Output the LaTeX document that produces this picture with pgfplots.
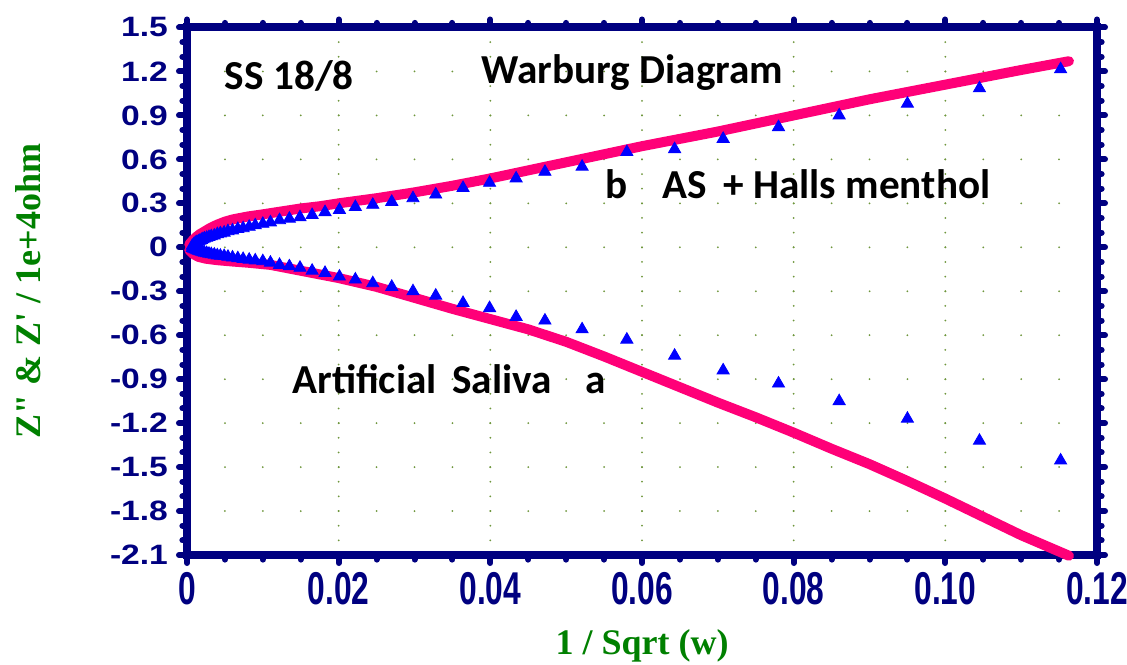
\documentclass[border=0pt]{standalone}
\usepackage{fontspec}
\usepackage{pgfplots}
\pgfplotsset{compat=1.18}
\newfontfamily\tickfont[FakeStretch=1.2]{Liberation Sans}
\newfontfamily\xtickfont[FakeStretch=0.69]{Liberation Sans}
\newfontfamily\labelfont{Liberation Serif}
\newfontfamily\annfont{Carlito}
\definecolor{navy}{RGB}{0,0,128}
\definecolor{dgreen}{RGB}{0,128,0}
\definecolor{gridgreen}{RGB}{110,150,60}
\definecolor{hotpink}{RGB}{255,0,120}
\begin{document}
\begin{tikzpicture}
\useasboundingbox (-93.5pt,-54.5pt) rectangle (470pt,277.5pt);
\begin{axis}[
  at={(0,0)}, anchor=south west,
  scale only axis, width=455pt, height=263.75pt,
  xmin=0, xmax=0.12, ymin=-2.1, ymax=1.5,
  xtick={0,0.02,0.04,0.06,0.08,0.1,0.12},
  xticklabels={0,0.02,0.04,0.06,0.08,0.10,0.12},
  ytick={-2.1,-1.8,-1.5,-1.2,-0.9,-0.6,-0.3,0,0.3,0.6,0.9,1.2,1.5},
  yticklabels={-2.1,-1.8,-1.5,-1.2,-0.9,-0.6,-0.3,0,0.3,0.6,0.9,1.2,1.5},
  minor x tick num=3, minor y tick num=2,
  tick align=outside,
  axis line style={navy, line width=4pt, line cap=rect},
  tick style={navy, line width=3pt, line cap=round},
  major tick length=4pt, minor tick length=2.3pt,
  yticklabel style={font=\tickfont\bfseries\fontsize{14pt}{16pt}\selectfont, text=navy},
  xticklabel style={font=\xtickfont\bfseries\fontsize{23pt}{25pt}\selectfont, text=navy},
  xticklabel shift=1pt, yticklabel shift=2pt,
  grid=major,
  major x grid style={gridgreen, line width=1pt, line cap=round, dash pattern=on 0pt off 7.3264pt},
  major y grid style={gridgreen, line width=1pt, line cap=round, dash pattern=on 0pt off 18.9583pt},
  xlabel={1 / Sqrt (w)},
  ylabel={Z" \& Z' / 1e+4ohm},
  label style={font=\labelfont\bfseries\fontsize{18pt}{20pt}\selectfont, text=dgreen},
  xlabel style={at={(axis description cs:0.5,-0.1725)}, anchor=center},
  ylabel style={at={(axis description cs:-0.1747,0.5)}, anchor=center},
  clip=false,
]
% upper pink curve
\addplot[hotpink, line width=5pt, line join=round, line cap=round] coordinates {
(0.0003,0.02)(0.0008,0.05)(0.0012,0.07)(0.0017,0.09)(0.0022,0.105)(0.003,0.13)
(0.004,0.155)(0.005,0.175)(0.006,0.19)(0.008,0.21)(0.010,0.225)(0.0125,0.245)
(0.015,0.265)(0.0175,0.28)(0.020,0.30)(0.025,0.335)(0.030,0.375)(0.035,0.42)
(0.040,0.47)(0.045,0.525)(0.050,0.58)(0.055,0.635)(0.060,0.69)(0.065,0.74)
(0.070,0.79)(0.075,0.845)(0.080,0.90)(0.085,0.955)(0.090,1.01)(0.095,1.06)
(0.100,1.11)(0.105,1.16)(0.110,1.21)(0.1163,1.27)
};
% lower pink curve
\addplot[hotpink, line width=5pt, line join=round, line cap=round] coordinates {
(0.0003,-0.02)(0.0008,-0.045)(0.0015,-0.065)(0.0025,-0.078)(0.004,-0.088)
(0.006,-0.097)(0.008,-0.105)(0.011,-0.12)(0.014,-0.15)(0.017,-0.18)(0.020,-0.21)
(0.025,-0.27)(0.030,-0.345)(0.035,-0.42)(0.040,-0.49)(0.045,-0.56)(0.050,-0.645)
(0.055,-0.745)(0.060,-0.85)(0.065,-0.955)(0.070,-1.06)(0.075,-1.16)(0.080,-1.265)
(0.085,-1.375)(0.090,-1.48)(0.095,-1.595)(0.100,-1.715)(0.105,-1.84)(0.110,-1.965)
(0.1163,-2.105)
};
% upper triangles
\addplot[blue, only marks, mark=triangle*, mark size=3.5pt, mark options={fill=blue, draw=none}] coordinates {
(0.1152,1.215)(0.1045,1.085)(0.0950,0.98)(0.0860,0.90)(0.0780,0.82)(0.0707,0.74)
(0.0643,0.67)(0.0580,0.65)(0.0521,0.55)(0.0472,0.515)(0.0434,0.47)(0.0399,0.44)
(0.0364,0.405)(0.0328,0.36)(0.0298,0.335)(0.0270,0.31)(0.0245,0.29)(0.0222,0.275)
(0.0201,0.255)(0.0182,0.24)(0.0165,0.22)(0.0149,0.205)(0.0135,0.195)(0.0122,0.185)
(0.0110,0.17)(0.0100,0.16)(0.0090,0.15)(0.0082,0.14)(0.0074,0.13)(0.0067,0.125)
(0.0060,0.115)(0.0054,0.11)(0.0049,0.10)(0.0044,0.095)(0.0040,0.09)(0.0036,0.08)
(0.0032,0.075)(0.0029,0.07)(0.0026,0.065)(0.0023,0.06)(0.0021,0.055)(0.0019,0.05)
(0.0017,0.045)(0.0015,0.04)(0.0013,0.035)(0.0011,0.03)(0.0009,0.02)(0.0007,0.01)
};
% lower triangles
\addplot[blue, only marks, mark=triangle*, mark size=3.5pt, mark options={fill=blue, draw=none}] coordinates {
(0.1152,-1.455)(0.1045,-1.32)(0.0950,-1.17)(0.0860,-1.05)(0.0780,-0.93)(0.0707,-0.84)
(0.0643,-0.74)(0.0580,-0.63)(0.0521,-0.56)(0.0472,-0.50)(0.0434,-0.475)(0.0399,-0.415)
(0.0364,-0.38)(0.0328,-0.33)(0.0298,-0.30)(0.0270,-0.27)(0.0245,-0.245)(0.0222,-0.22)
(0.0201,-0.20)(0.0182,-0.175)(0.0165,-0.16)(0.0149,-0.14)(0.0135,-0.13)(0.0122,-0.12)
(0.0110,-0.105)(0.0100,-0.095)(0.0090,-0.09)(0.0082,-0.085)(0.0074,-0.08)(0.0067,-0.075)
(0.0060,-0.07)(0.0054,-0.065)(0.0049,-0.06)(0.0044,-0.058)(0.0040,-0.055)(0.0036,-0.05)
(0.0032,-0.047)(0.0029,-0.044)(0.0026,-0.04)(0.0023,-0.037)(0.0021,-0.034)(0.0019,-0.03)
(0.0017,-0.027)(0.0015,-0.024)(0.0013,-0.02)(0.0011,-0.015)(0.0009,-0.01)(0.0007,-0.005)
};
\begin{scope}[every node/.style={font=\annfont\bfseries\fontsize{20.6pt}{24pt}\selectfont, text=black, inner sep=0pt, anchor=base west}]
\node at (axis cs:0.00495,1.074) {SS 18/8};
\node at (axis cs:0.0388,1.115) {Warburg Diagram};
\node at (axis cs:0.0551,0.336) {b};
\node at (axis cs:0.0626,0.336) {AS};
\node at (axis cs:0.0707,0.336) {+ Halls menthol};
\node at (axis cs:0.01385,-0.995) {Artificial};
\node at (axis cs:0.03495,-0.995) {Saliva};
\node at (axis cs:0.0525,-0.995) {a};
\end{scope}
\end{axis}
\end{tikzpicture}
\end{document}
